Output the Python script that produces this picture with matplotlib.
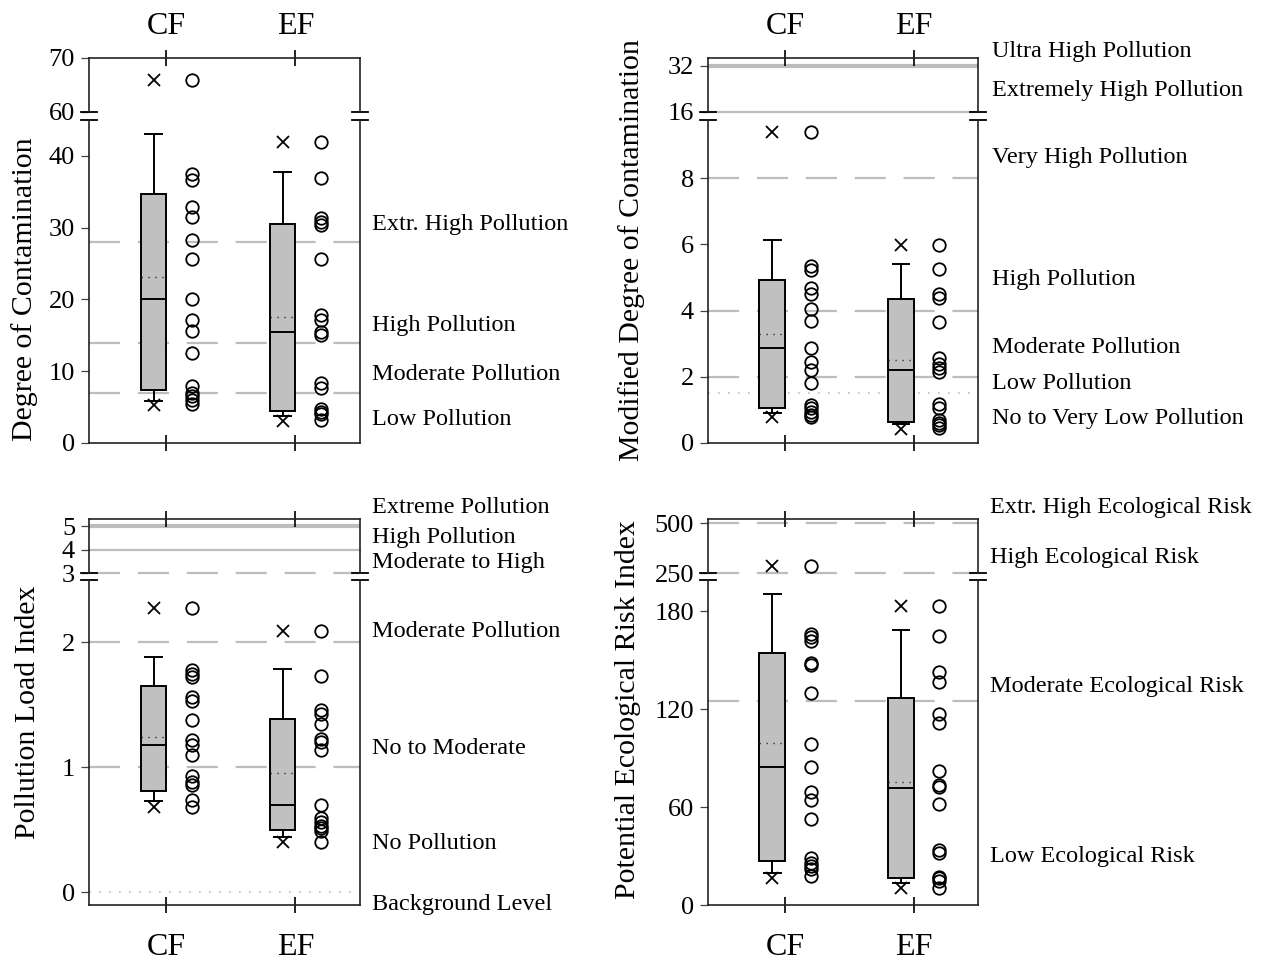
import numpy as np
import matplotlib
matplotlib.use("Agg")
import matplotlib.pyplot as plt

plt.rcParams['font.family'] = ['Liberation Serif', 'DejaVu Serif']
plt.rcParams['font.size'] = 19

groups = ["CF", "EF"]

# --- Degree of Contamination (Cd) ---
cd_cf = dict(q1=7.4, med=20.0, q3=34.7, mean=23.1, whislo=5.8, whishi=43.0)
cd_ef = dict(q1=4.5, med=15.5, q3=30.5, mean=17.5, whislo=3.8, whishi=37.8)
cd_minmax = [(5.3, 65.9), (3.1, 42.0)]
cd_cf_pts = [65.9, 37.5, 36.6, 32.9, 31.5, 28.3, 25.7, 20.1, 17.1, 15.6, 12.5, 8.0, 7.0, 6.5, 6.0, 5.5]
cd_ef_pts = [42.0, 36.9, 31.4, 30.8, 30.4, 25.6, 17.8, 17.1, 15.4, 15.0, 8.3, 7.7, 4.7, 4.3, 4.0, 3.2]

# --- Modified Degree of Contamination (mCd) ---
mcd_cf = dict(q1=1.07, med=2.86, q3=4.92, mean=3.29, whislo=0.90, whishi=6.13)
mcd_ef = dict(q1=0.64, med=2.21, q3=4.34, mean=2.51, whislo=0.57, whishi=5.41)
mcd_minmax = [(0.78, 14.4), (0.41, 5.98)]
mcd_cf_pts = [14.4, 5.33, 5.21, 4.67, 4.50, 4.04, 3.69, 2.86, 2.44, 2.21, 1.80, 1.15, 1.05, 0.95, 0.85, 0.78]
mcd_ef_pts = [5.98, 5.26, 4.50, 4.37, 3.66, 2.56, 2.38, 2.26, 2.15, 1.18, 1.05, 0.69, 0.61, 0.54, 0.44]

# --- Pollution Load Index (PLI) ---
pli_cf = dict(q1=0.81, med=1.18, q3=1.65, mean=1.245, whislo=0.73, whishi=1.88)
pli_ef = dict(q1=0.50, med=0.70, q3=1.385, mean=0.957, whislo=0.44, whishi=1.79)
pli_minmax = [(0.68, 2.275), (0.40, 2.09)]
pli_cf_pts = [2.275, 1.78, 1.75, 1.72, 1.56, 1.53, 1.38, 1.22, 1.18, 1.10, 0.93, 0.88, 0.86, 0.74, 0.68]
pli_ef_pts = [2.09, 1.73, 1.46, 1.43, 1.35, 1.23, 1.20, 1.14, 0.70, 0.59, 0.56, 0.53, 0.51, 0.49, 0.40]

# --- Potential Ecological Risk Index (RI) ---
ri_cf = dict(q1=27.1, med=84.3, q3=154.5, mean=99.0, whislo=19.4, whishi=190.3)
ri_ef = dict(q1=16.7, med=71.8, q3=126.5, mean=75.5, whislo=13.3, whishi=168.4)
ri_minmax = [(16.7, 285.0), (10.2, 183.0)]
ri_cf_pts = [285, 166, 164.3, 161.9, 148, 147, 130, 98.6, 84.3, 69.4, 64.3, 52.6, 28.5, 26, 24, 22, 18]
ri_ef_pts = [183, 164.9, 142.8, 136.7, 116.9, 111.2, 82, 73.5, 72.5, 61.6, 33.7, 32, 17.3, 16.3, 14.9, 10.2]

# classification thresholds: (value, style, which part)
cd_lines = [(28, 'dash', 'lo'), (14, 'dash', 'lo'), (7, 'dash', 'lo')]
mcd_lines = [(32, 'thick', 'hi'), (16, 'thin', 'hi'), (8, 'dash', 'lo'), (4, 'dash', 'lo'),
             (2, 'dash', 'lo'), (1.5, 'dot', 'lo')]
pli_lines = [(5, 'thick', 'hi'), (4, 'thin', 'hi'), (3, 'dash', 'hi'), (2, 'dash', 'lo'),
             (1, 'dash', 'lo'), (0, 'dot', 'lo')]
ri_lines = [(500, 'dash', 'hi'), (250, 'dash', 'hi'), (125, 'dash', 'lo')]

# class labels: (text, value, which part)
cd_labels = [("Extr. High Pollution", 30.5, 'lo'), ("High Pollution", 16.4, 'lo'),
             ("Moderate Pollution", 9.5, 'lo'), ("Low Pollution", 3.3, 'lo')]
mcd_labels = [("Ultra High Pollution", 36.7, 'hi'), ("Extremely High Pollution", 23.3, 'hi'),
              ("Very High Pollution", 10.8, 'lo'), ("High Pollution", 4.95, 'lo'),
              ("Moderate Pollution", 2.87, 'lo'), ("Low Pollution", 1.81, 'lo'),
              ("No to Very Low Pollution", 0.73, 'lo')]
pli_labels = [("Extreme Pollution", 5.77, 'hi'), ("High Pollution", 4.53, 'hi'),
              ("Moderate to High", 3.43, 'hi'), ("Moderate Pollution", 2.09, 'lo'),
              ("No to Moderate", 1.15, 'lo'), ("No Pollution", 0.39, 'lo'),
              ("Background Level", -0.10, 'lo')]
ri_labels = [("Extr. High Ecological Risk", 575, 'hi'), ("High Ecological Risk", 330, 'hi'),
             ("Moderate Ecological Risk", 134, 'lo'), ("Low Ecological Risk", 30, 'lo')]

GREY = '#bdbdbd'
W, H = 1269, 964

# piecewise scale for mCd: linear to 8, compressed 8-16
K = 0.219
def mcd_fwd(v):
    v = np.asarray(v, dtype=float)
    return np.where(v <= 8, v, 8 + (v - 8) * K)
def mcd_inv(u):
    u = np.asarray(u, dtype=float)
    return np.where(u <= 8, u, 8 + (u - 8) / K)


def add_axes(fig, x, y_top, w, y_bot):
    return fig.add_axes([x / W, 1 - y_bot / H, w / W, (y_bot - y_top) / H])


def draw_panel(fig, x, w, hi_px, lo_px, hi_lim, lo_lim, hi_ticks, lo_ticks,
               stats, minmax, pts, lines, labels, ylabel, ylabel_pos, top_row,
               lo_scale=None, label_x=1.045):
    ax_hi = add_axes(fig, x, hi_px[0], w, hi_px[1])
    ax_lo = add_axes(fig, x, lo_px[0], w, lo_px[1])
    if lo_scale is not None:
        ax_lo.set_yscale('function', functions=lo_scale)

    for ax, lim, ticks in [(ax_hi, hi_lim, hi_ticks), (ax_lo, lo_lim, lo_ticks)]:
        ax.set_xlim(0.4, 2.5)
        ax.set_ylim(*lim)
        ax.set_yticks(ticks)
        ax.set_yticklabels([str(t) for t in ticks])
        ax.set_xticks([1, 2])
        ax.set_xticklabels(groups, fontsize=23)
        ax.tick_params(axis='y', direction='out', length=6, width=0.9, color='#444444', pad=4)
        ax.tick_params(axis='x', direction='inout', length=11, width=1.2)
        for s in ax.spines.values():
            s.set_linewidth(1.2)
            s.set_color('#222222')
        ax.minorticks_off()

        ax.bxp([dict(s, fliers=[]) for s in stats], positions=[0.9, 1.9], widths=0.2,
               patch_artist=True, showmeans=True, meanline=True, showfliers=False,
               manage_ticks=False, capwidths=0.13,
               boxprops=dict(facecolor='#c0c0c0', edgecolor='black', linewidth=1.4),
               medianprops=dict(color='black', linewidth=1.4),
               meanprops=dict(color='#333333', linestyle=(0, (1, 4)), linewidth=1.0),
               whiskerprops=dict(color='black', linewidth=1.4),
               capprops=dict(color='black', linewidth=1.4))

        lo_v, hi_v = lim
        for i, (mn, mx) in enumerate(minmax):
            for v in (mn, mx):
                if lo_v <= v <= hi_v:
                    ax.plot(i + 0.9, v, marker='x', color='black', markersize=8, mew=1.3)
            p = np.array(pts[i])
            p = p[(p >= lo_v) & (p <= hi_v)]
            ax.plot(np.full(len(p), i + 1.2), p, 'o', mfc='none', mec='black',
                    markersize=9, mew=1.3, ls='none')

    ax_hi.spines['bottom'].set_visible(False)
    ax_lo.spines['top'].set_visible(False)
    ax_hi.tick_params(axis='x', bottom=False, top=True, labelbottom=False,
                      labeltop=top_row, pad=7)
    ax_lo.tick_params(axis='x', bottom=True, top=False, labeltop=False,
                      labelbottom=not top_row, pad=15)

    for val, style, part in lines:
        ax = ax_hi if part == 'hi' else ax_lo
        if style == 'dash':
            ax.axhline(val, color=GREY, lw=1.6, ls=(0, (14, 8)), zorder=0.5, clip_on=False)
        elif style == 'dot':
            ax.axhline(val, color=GREY, lw=1.2, ls=(0, (1, 5)), zorder=0.5)
        elif style == 'thick':
            ax.axhline(val, color=GREY, lw=3.0, zorder=0.5)
        else:
            ax.axhline(val, color=GREY, lw=1.6, zorder=0.5, clip_on=False)

    for txt, val, part in labels:
        ax = ax_hi if part == 'hi' else ax_lo
        ax.text(label_x, val, txt, transform=ax.get_yaxis_transform(),
                ha='left', va='center', fontsize=17.5, clip_on=False)

    # break marks
    d = 8 / w
    kw = dict(color='black', lw=1.3, clip_on=False)
    for xx in (0, 1):
        ax_hi.plot([xx - d, xx + d], [0, 0], transform=ax_hi.transAxes, **kw)
        ax_lo.plot([xx - d, xx + d], [1, 1], transform=ax_lo.transAxes, **kw)

    fig.text(ylabel_pos[0] / W, 1 - ylabel_pos[1] / H, ylabel, rotation=90,
             ha='center', va='center', fontsize=21.5)


fig = plt.figure(figsize=(12.69, 9.64), dpi=100)

draw_panel(fig, 89, 271, (58, 112), (120, 443), (60, 70), (0, 45),
           [60, 70], [0, 10, 20, 30, 40], [cd_cf, cd_ef], cd_minmax,
           [cd_cf_pts, cd_ef_pts], cd_lines, cd_labels,
           "Degree of Contamination", (25, 289), True)

draw_panel(fig, 708, 270, (58, 112), (120, 443), (16, 34.6), (0, 16),
           [16, 32], [0, 2, 4, 6, 8], [mcd_cf, mcd_ef], mcd_minmax,
           [mcd_cf_pts, mcd_ef_pts], mcd_lines, mcd_labels,
           "Modified Degree of Contamination", (632, 250), True,
           lo_scale=(mcd_fwd, mcd_inv), label_x=1.052)

draw_panel(fig, 89, 271, (519, 573), (580, 905), (3, 5.3), (-0.104, 2.5),
           [3, 4, 5], [0, 1, 2], [pli_cf, pli_ef], pli_minmax,
           [pli_cf_pts, pli_ef_pts], pli_lines, pli_labels,
           "Pollution Load Index", (28, 712), False)

draw_panel(fig, 708, 270, (519, 573), (580, 905), (250, 520), (0, 199),
           [250, 500], [0, 60, 120, 180], [ri_cf, ri_ef], ri_minmax,
           [ri_cf_pts, ri_ef_pts], ri_lines, ri_labels,
           "Potential Ecological Risk Index", (628, 710), False)

fig.savefig("out.png", dpi=100)
